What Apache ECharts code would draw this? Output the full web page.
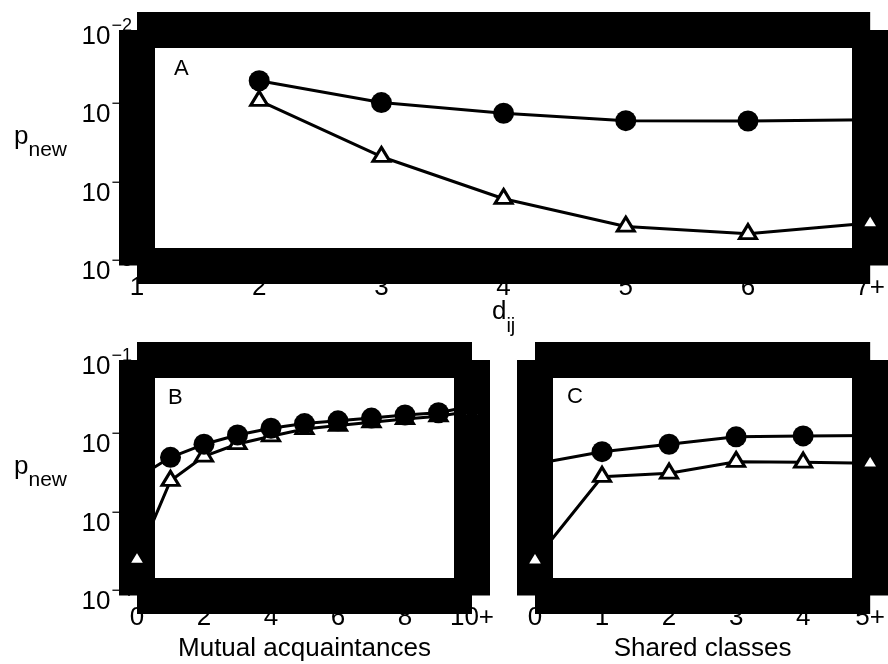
<!DOCTYPE html>
<html>
<head>
<meta charset="utf-8">
<script src="https://cdn.jsdelivr.net/npm/echarts@6/dist/echarts.min.js"></script>
<style>
  html, body { margin: 0; padding: 0; background: #fff; }
  #chart { width: 888px; height: 664px; }
</style>
</head>
<body>
<div id="chart"></div>
<script>
// ---- Data ----
// Panel A: distance d_ij
const catsA = ['1', '2', '3', '4', '5', '6', '7+'];
const circA = [null, 2.26e-3, 1.19e-3, 8.7e-4, 7.0e-4, 6.93e-4, 7.18e-4];
const triA  = [null, 1.26e-3, 2.43e-4, 7.08e-5, 3.14e-5, 2.53e-5, 3.48e-5];
// Panel B: mutual acquaintances
const catsB = ['0', '1', '2', '3', '4', '5', '6', '7', '8', '9', '10+'];
const circB = [3.14e-3, 5.76e-3, 8.44e-3, 1.11e-2, 1.35e-2, 1.55e-2, 1.68e-2, 1.82e-2, 1.99e-2, 2.13e-2, 2.6e-2];
const triB  = [2.88e-4, 2.90e-3, 5.93e-3, 8.51e-3, 1.07e-2, 1.32e-2, 1.46e-2, 1.61e-2, 1.77e-2, 1.92e-2, 2.24e-2];
// Panel C: shared classes
const catsC = ['0', '1', '2', '3', '4', '5+'];
const circC = [4.73e-3, 6.79e-3, 8.44e-3, 1.05e-2, 1.08e-2, 1.09e-2];
const triC  = [2.81e-4, 3.26e-3, 3.60e-3, 5.06e-3, 4.97e-3, 4.85e-3];
// Axis ranges (log10)
const yRangeA = [1e-5, 1e-2];
const yRangeBC = [1e-4, 1e-1];
const panelLetters = ['A', 'B', 'C'];
const xNames = ['{m|d}{s|ij}', 'Mutual acquaintances', 'Shared classes'];
const yName = '{p|p}{s|new}';

// ---- Build option ----
const FONT = 'Liberation Sans';
const grids = [
  { left: 137, top: 30, width: 734, height: 235.5 },
  { left: 137, top: 360, width: 335, height: 235.5 },
  { left: 535, top: 360, width: 336, height: 235.5 }
];
const cats = [catsA, catsB, catsC];
const yr = [yRangeA, yRangeBC, yRangeBC];
const labelIntervals = [0, 1, 0];
const showYLabels = [true, true, false];

const xAxes = [], yAxes = [];
const BAND = 36;
function expFormatter(v) {
  const e = Math.round(Math.log10(v));
  return '{a|10}{b|\u2212' + Math.abs(e) + '}';
}
const lineAxisCommon = {
  axisTick: { show: false }, axisLabel: { show: false }, splitLine: { show: false }, minorTick: { show: false }
};
grids.forEach((g, i) => {
  // label axes (drawn beneath the thick frame)
  xAxes.push({
    type: 'category', gridIndex: i, data: cats[i], boundaryGap: false, z: 0,
    position: 'bottom',
    axisLine: { show: false, onZero: false }, axisTick: { show: false }, splitLine: { show: false },
    axisLabel: { show: true, interval: labelIntervals[i], margin: 9, color: '#000', fontSize: 26, fontFamily: FONT },
    name: xNames[i], nameLocation: 'middle', nameGap: i === 0 ? 33 : 40, nameMoveOverlap: false,
    nameTextStyle: i === 0 ? {
      color: '#000', fontFamily: FONT,
      rich: {
        m: { fontSize: 26, lineHeight: 26, verticalAlign: 'top', fontFamily: FONT, color: '#000' },
        s: { fontSize: 20, lineHeight: 20, verticalAlign: 'top', padding: [18, 0, 0, 0], fontFamily: FONT, color: '#000' }
      }
    } : { color: '#000', fontSize: 26, fontFamily: FONT }
  });
  // frame: bottom and top bands
  ['bottom', 'top'].forEach(pos => xAxes.push(Object.assign({
    type: 'category', gridIndex: i, data: cats[i], boundaryGap: false, z: 1, position: pos,
    axisLine: { show: true, onZero: false, lineStyle: { color: '#000', width: BAND, cap: 'butt' } }
  }, lineAxisCommon)));

  const yBase = { type: 'log', logBase: 10, gridIndex: i, min: yr[i][0], max: yr[i][1], interval: 1 };
  yAxes.push(Object.assign({}, yBase, {
    position: 'left', z: 0,
    axisLine: { show: false, onZero: false }, axisTick: { show: false }, splitLine: { show: false }, minorTick: { show: false },
    axisLabel: {
      show: showYLabels[i], margin: 5, formatter: expFormatter, color: '#000',
      rich: {
        a: { fontSize: 26, lineHeight: 26, verticalAlign: 'top', padding: [6.5, 0, 0, 0], fontFamily: FONT, color: '#000' },
        b: { fontSize: 18, lineHeight: 18, verticalAlign: 'top', padding: [0, 0, 29, 1], fontFamily: FONT, color: '#000' }
      }
    },
    name: i < 2 ? yName : '', nameLocation: 'middle', nameRotate: 0, nameGap: 70, nameMoveOverlap: false,
    nameTextStyle: {
      align: 'right', padding: [0, 0, 21.5, 0],
      rich: {
        p: { fontSize: 26, lineHeight: 26, verticalAlign: 'top', fontFamily: FONT, color: '#000' },
        s: { fontSize: 21, lineHeight: 21, verticalAlign: 'top', padding: [15.5, 0, 0, 0], fontFamily: FONT, color: '#000' }
      }
    }
  }));
  // frame: left and right bands
  ['left', 'right'].forEach(pos => yAxes.push(Object.assign({}, yBase, {
    position: pos, z: 1,
    axisLine: { show: true, onZero: false, lineStyle: { color: '#000', width: BAND, cap: 'butt' } }
  }, lineAxisCommon)));
});

const circs = [circA, circB, circC];
const tris = [triA, triB, triC];
const series = [];
for (let i = 0; i < 3; i++) {
  series.push({
    type: 'line', xAxisIndex: i * 3, yAxisIndex: i * 3, data: tris[i],
    symbol: 'triangle', symbolSize: [17, 14], symbolOffset: [0, -2.3], showAllSymbol: true,
    itemStyle: { color: '#fff', borderColor: '#000', borderWidth: 3 },
    lineStyle: { color: '#000', width: 3 }, clip: false, z: 3, connectNulls: false,
    emphasis: { disabled: true }, animation: false, silent: true
  });
  series.push({
    type: 'line', xAxisIndex: i * 3, yAxisIndex: i * 3, data: circs[i],
    symbol: 'circle', symbolSize: 21, showAllSymbol: true,
    itemStyle: { color: '#000', borderColor: '#000', borderWidth: 0 },
    lineStyle: { color: '#000', width: 3 }, clip: false, z: 4, connectNulls: false,
    emphasis: { disabled: true }, animation: false, silent: true
  });
}

const letterPos = [[174, 58], [168, 386.5], [567, 385.5]];
const titles = panelLetters.map((t, i) => ({
  text: t, left: letterPos[i][0], top: letterPos[i][1], padding: 0,
  textStyle: { fontSize: 22, fontWeight: 'normal', color: '#000', fontFamily: FONT, lineHeight: 22 }
}));

const chart = echarts.init(document.getElementById('chart'), null, { renderer: 'canvas' });
chart.setOption({
  backgroundColor: '#fff',
  animation: false,
  title: titles,
  grid: grids,
  xAxis: xAxes,
  yAxis: yAxes,
  series: series
});
</script>
</body>
</html>
